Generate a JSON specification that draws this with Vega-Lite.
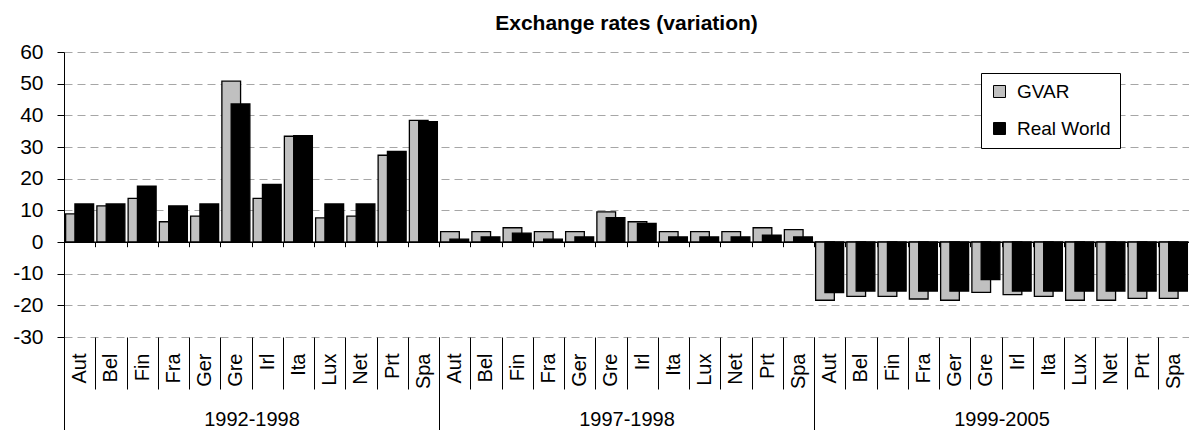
{
  "$schema": "https://vega.github.io/schema/vega-lite/v6.json",
  "width": 1125,
  "height": 285,
  "autosize": {"type": "none"},
  "padding": {"left": 64, "top": 52, "right": 0, "bottom": 93},
  "background": "white",
  "config": {"font": "Liberation Sans", "view": {"stroke": null}},
  "title": {"text": "Exchange rates (variation)", "fontSize": 21, "fontWeight": "bold", "font": "Liberation Sans", "anchor": "middle", "baseline": "bottom", "offset": 18, "dy": 32, "color": "#000"},
  "data": {"values": [
    {"k": "1992-1998|Aut", "p": "1992-1998", "c": "Aut", "GVAR": 8.9, "Real World": 12.0},
    {"k": "1992-1998|Bel", "p": "1992-1998", "c": "Bel", "GVAR": 11.4, "Real World": 12.0},
    {"k": "1992-1998|Fin", "p": "1992-1998", "c": "Fin", "GVAR": 13.8, "Real World": 17.6},
    {"k": "1992-1998|Fra", "p": "1992-1998", "c": "Fra", "GVAR": 6.4, "Real World": 11.4},
    {"k": "1992-1998|Ger", "p": "1992-1998", "c": "Ger", "GVAR": 8.2, "Real World": 12.0},
    {"k": "1992-1998|Gre", "p": "1992-1998", "c": "Gre", "GVAR": 50.8, "Real World": 43.6},
    {"k": "1992-1998|Irl", "p": "1992-1998", "c": "Irl", "GVAR": 13.8, "Real World": 18.2},
    {"k": "1992-1998|Ita", "p": "1992-1998", "c": "Ita", "GVAR": 33.4, "Real World": 33.6},
    {"k": "1992-1998|Lux", "p": "1992-1998", "c": "Lux", "GVAR": 7.6, "Real World": 12.0},
    {"k": "1992-1998|Net", "p": "1992-1998", "c": "Net", "GVAR": 8.2, "Real World": 12.0},
    {"k": "1992-1998|Prt", "p": "1992-1998", "c": "Prt", "GVAR": 27.4, "Real World": 28.6},
    {"k": "1992-1998|Spa", "p": "1992-1998", "c": "Spa", "GVAR": 38.4, "Real World": 38.0},
    {"k": "1997-1998|Aut", "p": "1997-1998", "c": "Aut", "GVAR": 3.3, "Real World": 0.9},
    {"k": "1997-1998|Bel", "p": "1997-1998", "c": "Bel", "GVAR": 3.3, "Real World": 1.6},
    {"k": "1997-1998|Fin", "p": "1997-1998", "c": "Fin", "GVAR": 4.5, "Real World": 2.8},
    {"k": "1997-1998|Fra", "p": "1997-1998", "c": "Fra", "GVAR": 3.3, "Real World": 0.9},
    {"k": "1997-1998|Ger", "p": "1997-1998", "c": "Ger", "GVAR": 3.3, "Real World": 1.6},
    {"k": "1997-1998|Gre", "p": "1997-1998", "c": "Gre", "GVAR": 9.5, "Real World": 7.7},
    {"k": "1997-1998|Irl", "p": "1997-1998", "c": "Irl", "GVAR": 6.4, "Real World": 5.9},
    {"k": "1997-1998|Ita", "p": "1997-1998", "c": "Ita", "GVAR": 3.3, "Real World": 1.6},
    {"k": "1997-1998|Lux", "p": "1997-1998", "c": "Lux", "GVAR": 3.3, "Real World": 1.6},
    {"k": "1997-1998|Net", "p": "1997-1998", "c": "Net", "GVAR": 3.3, "Real World": 1.6},
    {"k": "1997-1998|Prt", "p": "1997-1998", "c": "Prt", "GVAR": 4.5, "Real World": 2.2},
    {"k": "1997-1998|Spa", "p": "1997-1998", "c": "Spa", "GVAR": 3.9, "Real World": 1.6},
    {"k": "1999-2005|Aut", "p": "1999-2005", "c": "Aut", "GVAR": -18.4, "Real World": -16.0},
    {"k": "1999-2005|Bel", "p": "1999-2005", "c": "Bel", "GVAR": -17.2, "Real World": -15.5},
    {"k": "1999-2005|Fin", "p": "1999-2005", "c": "Fin", "GVAR": -17.2, "Real World": -15.5},
    {"k": "1999-2005|Fra", "p": "1999-2005", "c": "Fra", "GVAR": -18.0, "Real World": -15.5},
    {"k": "1999-2005|Ger", "p": "1999-2005", "c": "Ger", "GVAR": -18.4, "Real World": -15.5},
    {"k": "1999-2005|Gre", "p": "1999-2005", "c": "Gre", "GVAR": -15.9, "Real World": -11.9},
    {"k": "1999-2005|Irl", "p": "1999-2005", "c": "Irl", "GVAR": -16.6, "Real World": -15.5},
    {"k": "1999-2005|Ita", "p": "1999-2005", "c": "Ita", "GVAR": -17.2, "Real World": -15.5},
    {"k": "1999-2005|Lux", "p": "1999-2005", "c": "Lux", "GVAR": -18.4, "Real World": -15.5},
    {"k": "1999-2005|Net", "p": "1999-2005", "c": "Net", "GVAR": -18.4, "Real World": -15.5},
    {"k": "1999-2005|Prt", "p": "1999-2005", "c": "Prt", "GVAR": -17.8, "Real World": -15.5},
    {"k": "1999-2005|Spa", "p": "1999-2005", "c": "Spa", "GVAR": -17.8, "Real World": -15.5}
  ]},
  "transform": [{"fold": ["GVAR", "Real World"], "as": ["series", "value"]}],
  "layer": [
    {
      "transform": [{"filter": "datum.series === 'GVAR'"}],
      "mark": {"type": "bar", "width": 18.7, "xOffset": -4.65, "stroke": "#000", "strokeWidth": 1.3},
      "encoding": {
        "x": {"field": "k", "type": "nominal", "scale": {"paddingInner": 0, "paddingOuter": 0},
          "axis": {"orient": "bottom", "title": null, "domain": false, "ticks": true, "tickBand": "extent", "tickSize": 52, "tickColor": "#000", "tickWidth": 1, "labelAngle": -90, "labelAlign": "right", "labelBaseline": "middle", "labelFontSize": 20, "labelColor": "#000", "labelPadding": -36, "labelOverlap": false, "labelExpr": "split(datum.label, '|')[1]", "grid": false}},
        "y": {"field": "value", "type": "quantitative", "scale": {"domain": [-30, 60], "nice": false, "zero": false},
          "axis": {"title": null, "values": [-30, -20, -10, 0, 10, 20, 30, 40, 50, 60], "labelExpr": "toString(datum.value)", "domain": true, "domainColor": "#000", "domainWidth": 1, "ticks": true, "tickSize": 7, "tickColor": "#000", "labelFontSize": 21, "labelPadding": 14, "labelColor": "#000", "grid": true, "gridColor": "#a6a6a6", "gridDash": [8, 5], "gridWidth": 1}},
        "color": {"field": "series", "type": "nominal", "scale": {"domain": ["GVAR", "Real World"], "range": ["#c0c0c0", "#000000"]},
          "legend": {"title": null, "orient": "none", "legendX": 917, "legendY": 21, "direction": "vertical", "symbolType": "square", "symbolSize": 144, "symbolStrokeColor": "#000", "symbolStrokeWidth": 1, "labelFontSize": 19, "labelColor": "#000", "labelOffset": 8, "rowPadding": 17, "padding": 9, "strokeColor": "#000", "fillColor": "#fff"}}
      }
    },
    {
      "transform": [{"filter": "datum.series === 'Real World'"}],
      "mark": {"type": "bar", "width": 18.7, "xOffset": 4.65, "stroke": "#000", "strokeWidth": 1.3},
      "encoding": {
        "x": {"field": "k", "type": "nominal", "scale": {"paddingInner": 0, "paddingOuter": 0}, "axis": null},
        "y": {"field": "value", "type": "quantitative", "scale": {"domain": [-30, 60], "nice": false, "zero": false},
          "axis": {"title": null, "values": [-30, -20, -10, 0, 10, 20, 30, 40, 50, 60], "labelExpr": "toString(datum.value)", "domain": true, "domainColor": "#000", "domainWidth": 1, "ticks": true, "tickSize": 7, "tickColor": "#000", "labelFontSize": 21, "labelPadding": 14, "labelColor": "#000", "grid": true, "gridColor": "#a6a6a6", "gridDash": [8, 5], "gridWidth": 1}},
        "color": {"field": "series", "type": "nominal", "scale": {"domain": ["GVAR", "Real World"], "range": ["#c0c0c0", "#000000"]},
          "legend": {"title": null, "orient": "none", "legendX": 917, "legendY": 21, "direction": "vertical", "symbolType": "square", "symbolSize": 144, "symbolStrokeColor": "#000", "symbolStrokeWidth": 1, "labelFontSize": 19, "labelColor": "#000", "labelOffset": 8, "rowPadding": 17, "padding": 9, "strokeColor": "#000", "fillColor": "#fff"}}
      }
    },
    {
      "mark": {"type": "rule", "opacity": 0},
      "encoding": {
        "x": {"field": "k", "type": "nominal", "scale": {"paddingInner": 0, "paddingOuter": 0},
          "axis": {"orient": "bottom", "offset": -95.3, "title": null, "labels": false, "domain": true, "domainColor": "#000", "domainWidth": 1.5, "ticks": true, "tickBand": "extent", "tickSize": 5, "tickColor": "#000", "tickWidth": 1, "grid": false}}
      }
    },
    {
      "data": {"values": [{"p": "1992-1998"}, {"p": "1997-1998"}, {"p": "1999-2005"}]},
      "mark": {"type": "rule", "opacity": 0},
      "encoding": {
        "x": {"field": "p", "type": "nominal", "scale": {"paddingInner": 0, "paddingOuter": 0},
          "axis": {"orient": "bottom", "title": null, "domain": false, "ticks": true, "tickBand": "extent", "tickSize": 94, "tickColor": "#000", "tickWidth": 1, "labelAngle": 0, "labelAlign": "center", "labelBaseline": "top", "labelFontSize": 20, "labelColor": "#000", "labelPadding": -22, "grid": false}}
      }
    }
  ],
  "resolve": {"scale": {"x": "independent"}, "axis": {"x": "independent"}}
}
